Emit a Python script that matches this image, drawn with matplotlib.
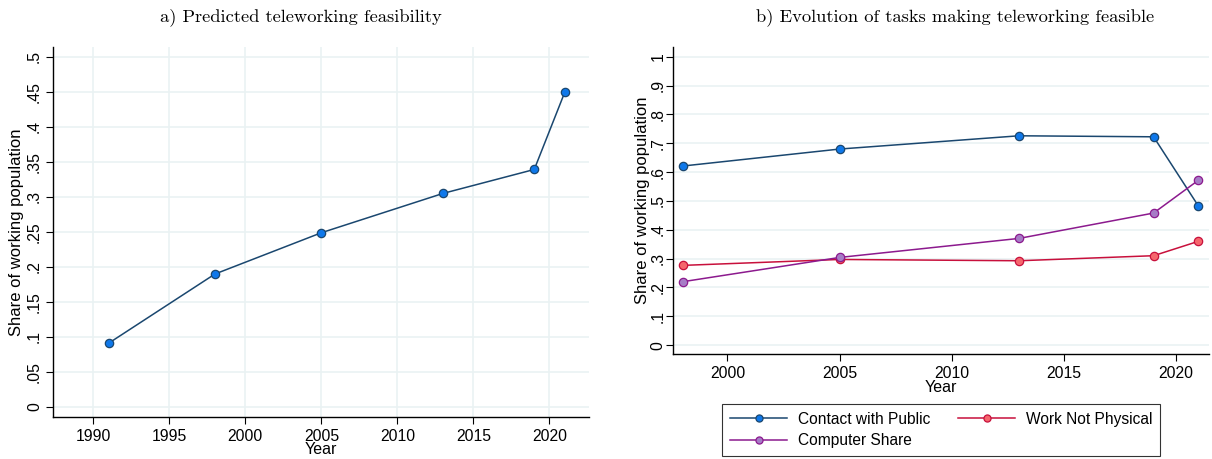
import matplotlib
matplotlib.use("Agg")
import matplotlib.pyplot as plt

plt.rcParams['font.family'] = ['Liberation Sans', 'DejaVu Sans']
plt.rcParams['font.size'] = 11.5

# panel a: predicted teleworking feasibility
years_a = [1991, 1998, 2005, 2013, 2019, 2021]
feasibility = [0.0906, 0.1896, 0.2486, 0.3048, 0.339, 0.449]
yticks_a = [0, 0.05, 0.1, 0.15, 0.2, 0.25, 0.3, 0.35, 0.4, 0.45, 0.5]
yticklabels_a = ['0', '.05', '.1', '.15', '.2', '.25', '.3', '.35', '.4', '.45', '.5']
xticks_a = [1990, 1995, 2000, 2005, 2010, 2015, 2020]

# panel b: tasks making teleworking feasible
years_b = [1998, 2005, 2013, 2019, 2021]
contact_public = [0.621, 0.680, 0.726, 0.7225, 0.482]
not_physical = [0.2764, 0.297, 0.2925, 0.310, 0.360]
computer_share = [0.2197, 0.304, 0.370, 0.458, 0.572]
yticks_b = [0, 0.1, 0.2, 0.3, 0.4, 0.5, 0.6, 0.7, 0.8, 0.9, 1.0]
yticklabels_b = ['0', '.1', '.2', '.3', '.4', '.5', '.6', '.7', '.8', '.9', '1']
xticks_b = [2000, 2005, 2010, 2015, 2020]

grid_col = '#eaf2f3'
W, H = 1212, 459
fig = plt.figure(figsize=(W / 100, H / 100), dpi=100)

def box(x0, y0, x1, y1):
    return [x0 / W, 1 - y1 / H, (x1 - x0) / W, (y1 - y0) / H]

def style(ax, ypad):
    for s in ['top', 'right']:
        ax.spines[s].set_visible(False)
    for s in ['left', 'bottom']:
        ax.spines[s].set_linewidth(1.0)
    ax.tick_params(direction='out', length=5, width=0.8, colors='black', labelsize=11.3)
    ax.tick_params(axis='y', pad=ypad)
    ax.set_axisbelow(True)
    for lab in ax.get_yticklabels():
        lab.set_rotation(90)
        lab.set_va('center')

ax1 = fig.add_axes(box(53, 47, 589, 417))
ax1.plot(years_a, feasibility, color='#1a476f', lw=1.1, marker='o', ms=6,
         mfc='#0f78ea', mec='#1a476f', mew=0.9, zorder=3)
ax1.set_xlim(1987.35, 2022.6)
ax1.set_ylim(-0.0147, 0.514)
ax1.set_xticks(xticks_a)
ax1.set_yticks(yticks_a)
ax1.set_yticklabels(yticklabels_a)
ax1.grid(True, color=grid_col, lw=1.2)
ax1.set_xlabel('Year', fontsize=11.5)
ax1.set_ylabel('Share of working population', fontsize=12)
ax1.xaxis.set_label_coords(0.5, -0.0865)
ax1.xaxis.label.set_va('center')
ax1.yaxis.set_label_coords((16.5 - 53) / 536, 0.5)
ax1.yaxis.label.set_va('center')
style(ax1, 3)

ax2 = fig.add_axes(box(672.7, 47, 1209, 354.3))
l1, = ax2.plot(years_b, contact_public, color='#1a476f', lw=1.1, marker='o', ms=6,
               mfc='#0f78ea', mec='#1a476f', mew=0.9, zorder=3, label='Contact with Public')
l2, = ax2.plot(years_b, not_physical, color='#c8103c', lw=1.1, marker='o', ms=6,
               mfc='#f5666d', mec='#c8103c', mew=0.9, zorder=3, label='Work Not Physical')
l3, = ax2.plot(years_b, computer_share, color='#8c1a8e', lw=1.1, marker='o', ms=6,
               mfc='#a67cc6', mec='#8c1a8e', mew=0.9, zorder=3, label='Computer Share')
ax2.set_xlim(1997.56, 2021.47)
ax2.set_ylim(-0.032, 1.034)
ax2.set_xticks(xticks_b)
ax2.set_yticks(yticks_b)
ax2.set_yticklabels(yticklabels_b)
ax2.yaxis.grid(True, color=grid_col, lw=1.2)
ax2.set_xlabel('Year', fontsize=11.5)
ax2.set_ylabel('Share of working population', fontsize=12)
ax2.xaxis.set_label_coords(0.4997, (354.3 - 388) / 307.3)
ax2.xaxis.label.set_va('center')
ax2.yaxis.set_label_coords((642.5 - 672.7) / 536.3, 0.5)
ax2.yaxis.label.set_va('center')
style(ax2, 0)

leg = fig.legend([l1, l3, l2], [h.get_label() for h in [l1, l3, l2]],
                 ncol=2, loc='center', bbox_to_anchor=(941 / W, 1 - 430 / H),
                 frameon=True, fancybox=False, edgecolor='black', fontsize=11.2,
                 handlelength=3.7, handletextpad=0.65, columnspacing=1.8,
                 labelspacing=0.4, borderpad=0.5, markerscale=0.85)
leg.get_frame().set_linewidth(0.8)

fig.text(301 / W, 1 - 17 / H, 'a) Predicted teleworking feasibility',
         ha='center', va='center', fontname='cmr10', fontsize=13.3)
fig.text(955 / W, 1 - 17 / H, 'b) Evolution of tasks making teleworking feasible',
         ha='center', va='center', fontname='cmr10', fontsize=13.3)

fig.savefig('out.png', dpi=100)
